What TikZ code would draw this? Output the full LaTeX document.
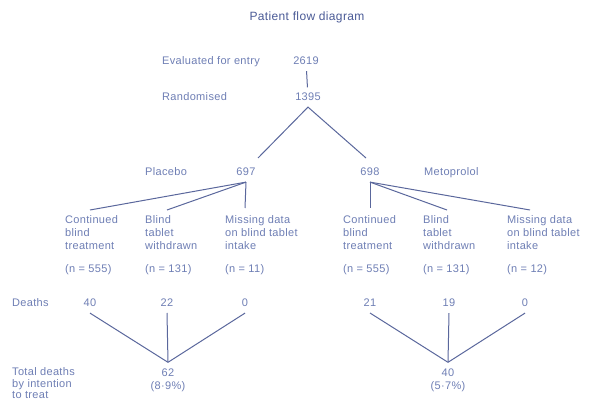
\documentclass[tikz,border=0pt]{standalone}
\usepackage{fontspec}
\setmainfont{Liberation Sans}[LetterSpace=3]
\usepackage{xcolor}
\definecolor{ardoise}{HTML}{6E7EB4}
\definecolor{ardoisefonce}{HTML}{4A5A96}
\definecolor{traitbleu}{HTML}{5A679C}
\usepackage{tikz}

\begin{document}
\begin{tikzpicture}[x=1pt,y=-1pt,
  txt/.style={anchor=base west,align=left,inner sep=0pt,text=ardoise,font=\fontsize{11}{13}\selectfont},
  num/.style={anchor=base,inner sep=2pt,outer sep=4pt,text=ardoise,font=\fontsize{11}{13}\selectfont},
  trait/.style={draw=traitbleu,line width=1pt}
]
\useasboundingbox (0,0) rectangle (590,401);
% ---- titre et entree ----
\node[anchor=base,text=ardoisefonce,font=\fontsize{12}{14}\selectfont] (titre) at (307,21) {Patient flow diagram};
\node[txt] (eval) at (162,65) {Evaluated for entry};
\node[num] (n2619) at (306,65) {2619};
\node[txt] (rand) at (162,101) {Randomised};
\node[num] (n1395) at (308,101) {1395};
\draw[trait] (n2619) -- (n1395);
% ---- deux bras ----
\node[txt] (plac) at (145,176) {Placebo};
\node[num] (n697) at (246,176) {697};
\node[num] (n698) at (370,176) {698};
\node[txt] (meto) at (424,176) {Metoprolol};
\coordinate (bpla) at (258,158);
\coordinate (bmet) at (366,158);
\draw[trait] (bpla) -- (n1395.south) -- (bmet);
% ---- sous-groupes (base = derniere ligne) ----
\foreach \x/\t/\n/\nom in {65/{Continued\\blind\\treatment}/555/pc,
  145/{Blind\\tablet\\withdrawn}/131/pb,
  225/{Missing data\\on blind tablet\\intake}/11/pm,
  343/{Continued\\blind\\treatment}/555/mc,
  423/{Blind\\tablet\\withdrawn}/131/mb,
  507/{Missing data\\on blind tablet\\intake}/12/mm}{
  \node[txt] (\nom) at (\x,250) {\t};
  \node[txt] (\nom n) at (\x,273) {(n = \n)};
}
\coordinate (epc) at (90,210);
\coordinate (epb) at (167,210);
\coordinate (epm) at (245,208);
\coordinate (emc) at (370,208);
\coordinate (emb) at (447,210);
\coordinate (emm) at (530,210);
\foreach \e in {epc,epb,epm} \draw[trait] (n697.south) -- (\e);
\foreach \e in {emc,emb,emm} \draw[trait] (n698.south) -- (\e);
% ---- deces ----
\node[txt] (deces) at (12,307) {Deaths};
\foreach \x/\v/\nom in {90/40/da, 167/22/db, 245/0/dc, 370/21/dd, 449/19/de, 525/0/df}
  \node[num] (\nom) at (\x,307) {\v};
\node[txt,font=\fontsize{11}{12}\selectfont] (total) at (12,399) {Total deaths\\by intention\\to treat};
\node[num] (tot1) at (168,376) {62};
\node[num] (pct1) at (168,389) {(8·9\%)};
\node[num] (tot2) at (448,376) {40};
\node[num] (pct2) at (448,389) {(5·7\%)};
\foreach \d in {da,db,dc} \draw[trait] (\d.south) -- (tot1.north);
\foreach \d in {dd,de,df} \draw[trait] (\d.south) -- (tot2.north);
\end{tikzpicture}
\end{document}
